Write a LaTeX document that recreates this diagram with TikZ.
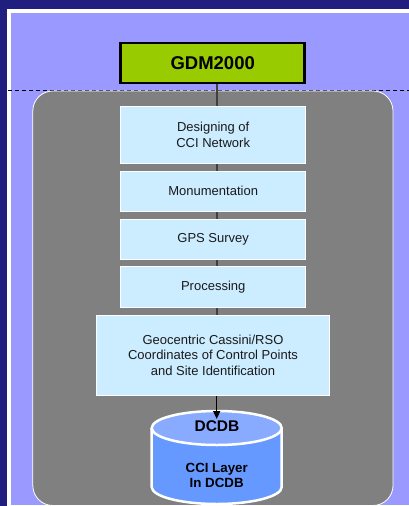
\documentclass[tikz,border=0pt]{standalone}
\usepackage{fontspec}
\setmainfont{Liberation Sans}
\usetikzlibrary{arrows.meta}

\definecolor{navy}{HTML}{201F80}
\definecolor{lavender}{HTML}{9999FF}
\definecolor{panelgray}{HTML}{808080}
\definecolor{stepfill}{HTML}{CCECFF}
\definecolor{limegreen}{HTML}{99CC00}
\definecolor{linkgray}{HTML}{404040}
\definecolor{dbtop}{HTML}{88AAFF}
\definecolor{dbbody}{HTML}{6699FF}
\definecolor{inktext}{HTML}{1A1A1A}

\tikzset{
  stepbox/.style={fill=stepfill, draw=white, line width=0.7pt, inner sep=0pt,
    minimum width=185pt, align=center, text=inktext,
    font=\fontsize{13}{15.6}\selectfont},
  link/.style={draw=linkgray, line width=2pt},
  dbtext/.style={font=\bfseries\fontsize{13.3}{15.4}\selectfont, align=center, text=black, inner sep=0pt}
}

\begin{document}
\begin{tikzpicture}[x=1pt,y=-1pt]
\useasboundingbox (0,0) rectangle (409,506);

% slide background and framed area
\fill[navy] (0,0) rectangle (409,506);
\fill[white] (7,9.3) rectangle (409,506);
\fill[lavender] (11,13.3) rectangle (409,504.7);

% dashed separator
\draw[black, line width=0.9pt, dash pattern=on 4pt off 3pt] (8,90.7) -- (409,90.7);

% grey panel
\draw[fill=panelgray, draw=white, line width=0.8pt, rounded corners=20pt]
  (32.8,91) rectangle (393,505.5);

% top box
\node[fill=limegreen, draw=black, line width=2.5pt, minimum width=184pt,
  minimum height=40pt, inner sep=0pt,
  font=\bfseries\fontsize{18.5}{22}\selectfont] (gdm) at (212.7,63) {GDM2000};

% process steps
\node[stepbox, minimum height=56.6pt] (s1) at (213.2,135) {Designing of\\CCI Network};
\node[stepbox, minimum height=40.7pt] (s2) at (213.2,191.3) {Monumentation};
\node[stepbox, minimum height=40.3pt] (s3) at (213.2,239.2) {GPS Survey};
\node[stepbox, minimum height=40.6pt] (s4) at (213.2,287) {Processing};
\node[stepbox, minimum width=232.6pt, minimum height=80.7pt] (s5) at (213,355.3)
  {Geocentric Cassini/RSO\\Coordinates of Control Points\\and Site Identification};

% connectors
\draw[link] ([xshift=4pt]gdm.south) -- ([xshift=3.5pt]s1.north);
\draw[link] ([xshift=3.5pt]s1.south) -- ([xshift=3.5pt]s2.north);
\draw[link] ([xshift=3.5pt]s2.south) -- ([xshift=3.5pt]s3.north);
\draw[link] ([xshift=3.5pt]s3.south) -- ([xshift=3.5pt]s4.north);
\draw[link] ([xshift=3.5pt]s4.south) -- ([xshift=3.7pt]s5.north);

% database cylinder
\fill[dbbody] (151.7,428) -- (151.7,487)
  arc[start angle=180, end angle=0, x radius=65, y radius=17] -- (281.7,428) -- cycle;
\draw[white, line width=2.5pt] (151.7,428) -- (151.7,487)
  arc[start angle=180, end angle=0, x radius=65, y radius=17] -- (281.7,428);
\draw[fill=dbtop, draw=white, line width=2.5pt] (216.7,428) ellipse [x radius=65, y radius=17];

\node[dbtext, font=\bfseries\fontsize{15.5}{18}\selectfont] (dbname) at (217,426.3) {DCDB};
\node[dbtext] (dblayer) at (216.7,475.2) {CCI Layer\\In DCDB};

% arrow into the database
\coordinate (dbin) at (216.7,419);
\draw[black, line width=1.5pt, -{Triangle[length=8pt,width=7pt]}]
  ([xshift=3.7pt]s5.south) -- (dbin);
\end{tikzpicture}
\end{document}
